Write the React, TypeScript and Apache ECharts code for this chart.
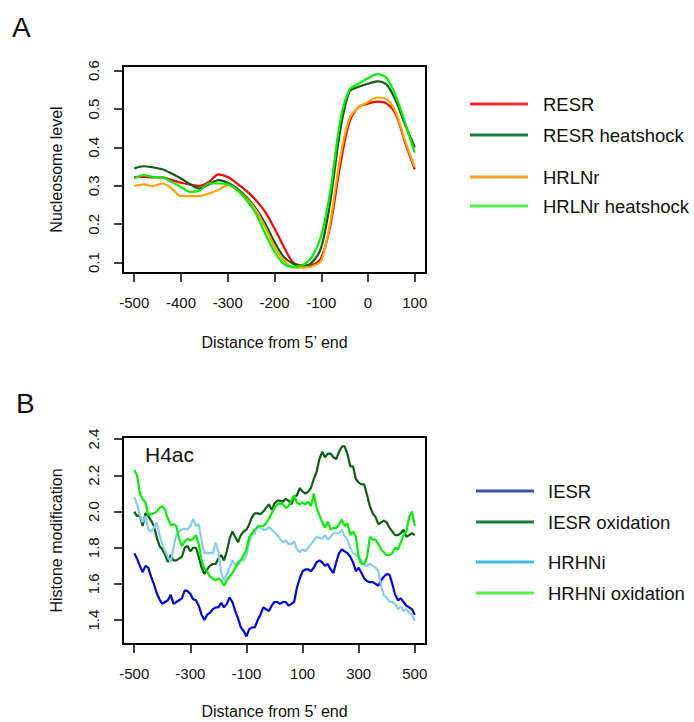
import React, { useEffect, useRef } from "react";
import * as echarts from "echarts";

// ---------- Panel A data ----------
const xsA = [-500, -480, -460, -440, -420, -400, -380, -360, -340, -320, -300, -280, -260, -240, -220, -200, -180, -160, -140, -120, -100, -80, -60, -40, -20, 0, 20, 40, 60, 80, 100];
const resr = [0.323, 0.323, 0.322, 0.322, 0.315, 0.308, 0.303, 0.300, 0.310, 0.330, 0.323, 0.306, 0.287, 0.263, 0.232, 0.189, 0.141, 0.100, 0.093, 0.094, 0.113, 0.200, 0.350, 0.465, 0.505, 0.514, 0.519, 0.514, 0.485, 0.410, 0.343];
const resrHeat = [0.345, 0.351, 0.348, 0.343, 0.332, 0.319, 0.304, 0.293, 0.304, 0.315, 0.308, 0.293, 0.271, 0.241, 0.202, 0.154, 0.115, 0.097, 0.090, 0.100, 0.140, 0.265, 0.440, 0.545, 0.558, 0.566, 0.572, 0.563, 0.520, 0.457, 0.400];
const hrlnr = [0.300, 0.304, 0.299, 0.306, 0.293, 0.273, 0.273, 0.273, 0.280, 0.289, 0.302, 0.289, 0.267, 0.237, 0.193, 0.141, 0.106, 0.087, 0.087, 0.090, 0.105, 0.210, 0.370, 0.475, 0.505, 0.518, 0.530, 0.526, 0.490, 0.415, 0.348];
const hrlnrHeat = [0.319, 0.328, 0.323, 0.322, 0.310, 0.297, 0.284, 0.288, 0.306, 0.306, 0.304, 0.289, 0.263, 0.228, 0.176, 0.128, 0.097, 0.089, 0.093, 0.115, 0.170, 0.290, 0.465, 0.550, 0.566, 0.580, 0.591, 0.580, 0.532, 0.462, 0.386];
const xTicksA = [-500, -400, -300, -200, -100, 0, 100];
const yTicksA = [0.1, 0.2, 0.3, 0.4, 0.5, 0.6];

// ---------- Panel B data ----------
const xsB = [-500, -490, -480, -470, -460, -450, -440, -430, -420, -410, -400, -390, -380, -370, -360, -350, -340, -330, -320, -310, -300, -290, -280, -270, -260, -250, -240, -230, -220, -210, -200, -190, -180, -170, -160, -150, -140, -130, -120, -110, -100, -90, -80, -70, -60, -50, -40, -30, -20, -10, 0, 10, 20, 30, 40, 50, 60, 70, 80, 90, 100, 110, 120, 130, 140, 150, 160, 170, 180, 190, 200, 210, 220, 230, 240, 250, 260, 270, 280, 290, 300, 310, 320, 330, 340, 350, 360, 370, 380, 390, 400, 410, 420, 430, 440, 450, 460, 470, 480, 490, 500];
const iesr = [1.77, 1.74, 1.70, 1.665, 1.70, 1.69, 1.64, 1.60, 1.55, 1.515, 1.49, 1.50, 1.51, 1.54, 1.49, 1.50, 1.51, 1.52, 1.565, 1.56, 1.545, 1.515, 1.51, 1.48, 1.43, 1.40, 1.43, 1.44, 1.46, 1.47, 1.47, 1.495, 1.47, 1.49, 1.525, 1.50, 1.45, 1.41, 1.36, 1.34, 1.31, 1.35, 1.36, 1.36, 1.40, 1.43, 1.47, 1.46, 1.45, 1.48, 1.50, 1.50, 1.49, 1.50, 1.50, 1.48, 1.49, 1.50, 1.58, 1.63, 1.67, 1.68, 1.68, 1.67, 1.69, 1.72, 1.73, 1.72, 1.70, 1.71, 1.68, 1.66, 1.72, 1.77, 1.79, 1.78, 1.77, 1.75, 1.72, 1.67, 1.69, 1.66, 1.63, 1.615, 1.61, 1.61, 1.60, 1.59, 1.62, 1.64, 1.655, 1.65, 1.60, 1.54, 1.51, 1.52, 1.50, 1.48, 1.47, 1.46, 1.43];
const iesrOx = [2.00, 1.975, 1.98, 1.92, 1.99, 1.975, 1.95, 1.92, 1.86, 1.81, 1.79, 1.76, 1.72, 1.76, 1.73, 1.73, 1.74, 1.75, 1.80, 1.81, 1.78, 1.80, 1.80, 1.75, 1.69, 1.655, 1.68, 1.70, 1.71, 1.71, 1.74, 1.76, 1.73, 1.78, 1.85, 1.89, 1.86, 1.83, 1.87, 1.89, 1.90, 1.93, 1.97, 1.99, 1.99, 1.985, 2.00, 2.02, 2.04, 2.01, 2.045, 2.06, 2.06, 2.055, 2.07, 2.06, 2.04, 2.08, 2.09, 2.13, 2.11, 2.10, 2.11, 2.13, 2.18, 2.22, 2.29, 2.33, 2.30, 2.32, 2.32, 2.30, 2.29, 2.33, 2.36, 2.36, 2.32, 2.25, 2.25, 2.18, 2.16, 2.15, 2.15, 2.09, 2.03, 1.99, 1.97, 1.93, 1.94, 1.95, 1.94, 1.91, 1.89, 1.87, 1.87, 1.88, 1.90, 1.86, 1.87, 1.88, 1.87];
const hrhni = [2.08, 2.04, 1.98, 1.94, 1.975, 1.90, 1.89, 1.91, 1.94, 1.87, 1.82, 1.78, 1.75, 1.72, 1.80, 1.87, 1.89, 1.90, 1.905, 1.90, 1.92, 1.96, 1.92, 1.93, 1.84, 1.77, 1.77, 1.77, 1.77, 1.83, 1.78, 1.66, 1.62, 1.655, 1.69, 1.73, 1.705, 1.725, 1.735, 1.73, 1.76, 1.83, 1.87, 1.88, 1.925, 1.91, 1.90, 1.90, 1.915, 1.90, 1.885, 1.87, 1.85, 1.83, 1.84, 1.82, 1.82, 1.835, 1.79, 1.775, 1.79, 1.78, 1.80, 1.82, 1.84, 1.86, 1.855, 1.85, 1.87, 1.845, 1.86, 1.88, 1.88, 1.88, 1.90, 1.865, 1.845, 1.80, 1.77, 1.76, 1.75, 1.73, 1.705, 1.70, 1.71, 1.70, 1.69, 1.67, 1.59, 1.535, 1.525, 1.50, 1.50, 1.49, 1.46, 1.475, 1.45, 1.46, 1.44, 1.43, 1.395];
const hrhniOx = [2.23, 2.20, 2.10, 2.07, 2.05, 1.98, 1.985, 1.99, 2.00, 2.02, 2.03, 2.01, 1.96, 1.925, 1.93, 1.92, 1.85, 1.81, 1.835, 1.85, 1.84, 1.85, 1.87, 1.82, 1.73, 1.685, 1.67, 1.64, 1.63, 1.62, 1.63, 1.62, 1.59, 1.62, 1.64, 1.66, 1.69, 1.71, 1.73, 1.76, 1.79, 1.86, 1.88, 1.90, 1.915, 1.92, 1.92, 1.935, 1.96, 1.99, 2.02, 2.04, 2.045, 2.04, 2.02, 2.03, 2.06, 2.09, 2.05, 2.04, 2.05, 2.04, 2.055, 2.03, 2.10, 2.02, 1.98, 1.94, 1.91, 1.945, 1.90, 1.91, 1.91, 1.93, 1.955, 1.92, 1.935, 1.87, 1.89, 1.86, 1.75, 1.71, 1.71, 1.75, 1.86, 1.845, 1.845, 1.82, 1.79, 1.775, 1.76, 1.76, 1.77, 1.80, 1.79, 1.83, 1.87, 1.89, 1.97, 2.00, 1.92];
const xTicksB = [-500, -300, -100, 100, 300, 500];
const yTicksB = [1.4, 1.6, 1.8, 2.0, 2.2, 2.4];

const legendA = ["RESR", "RESR heatshock", "HRLNr", "HRLNr heatshock"];
const legendB = ["IESR", "IESR oxidation", "HRHNi", "HRHNi oxidation"];

const FONT = '"Liberation Sans", Arial, sans-serif';
const colorsA = ["#ff0000", "#0b5e12", "#ffa500", "#00ee00"];
const legendColorsA = ["#f02a2a", "#1b7a3e", "#f5a02a", "#55f04a"];
const colorsB = ["#0000ee", "#0b5e12", "#87ceeb", "#00ee00"];
const legendColorsB = ["#3a55a8", "#1b7a3e", "#3bbde8", "#55f04a"];

function makeX(idx: number, min: number, max: number, ticks: number[]) {
  return {
    type: "value",
    gridIndex: idx,
    min,
    max,
    axisLine: { show: false, onZero: false },
    axisTick: { show: true, length: 9, customValues: ticks, lineStyle: { color: "#000", width: 1.5 } },
    axisLabel: { customValues: ticks, margin: 22, fontSize: 15, color: "#111", fontFamily: FONT, formatter: (v: number) => String(Math.round(v)) },
    splitLine: { show: false },
  };
}

function makeY(idx: number, min: number, max: number, ticks: number[]) {
  return {
    type: "value",
    gridIndex: idx,
    min,
    max,
    axisLine: { show: false, onZero: false },
    axisTick: { show: true, length: 9, customValues: ticks, lineStyle: { color: "#000", width: 1.5 } },
    axisLabel: { customValues: ticks, margin: 22, rotate: 90, fontSize: 15, color: "#111", fontFamily: FONT, formatter: (v: number) => v.toFixed(1) },
    splitLine: { show: false },
  };
}

function lineSeries(name: string, xs: number[], vals: number[], color: string, idx: number, smooth: number | boolean) {
  return {
    type: "line",
    name,
    xAxisIndex: idx,
    yAxisIndex: idx,
    data: xs.map((x, i) => [x, vals[i]]),
    showSymbol: false,
    symbol: "none",
    smooth,
    lineStyle: { color, width: 2.2 },
    itemStyle: { color },
  };
}

function txt(text: string, x: number, y: number, size: number, opts: any = {}) {
  return {
    type: "text",
    x,
    y,
    rotation: opts.rotation || 0,
    style: {
      text,
      fill: "#111",
      fontSize: size,
      fontFamily: FONT,
      align: opts.align || "left",
      verticalAlign: "middle",
    },
  };
}

function legendGraphics(names: string[], colors: string[], x1: number, x2: number, tx: number, ys: number[]) {
  const out: any[] = [];
  names.forEach((n, i) => {
    out.push({ type: "line", shape: { x1, y1: ys[i], x2, y2: ys[i] }, style: { stroke: colors[i], lineWidth: 3 } });
    out.push(txt(n, tx, ys[i], 18.5));
  });
  return out;
}

export default function App() {
  const ref = useRef<HTMLDivElement>(null);
  useEffect(() => {
    if (!ref.current) return;
    const chart = echarts.init(ref.current, undefined, { renderer: "svg" });
    const seriesA = [resr, resrHeat, hrlnr, hrlnrHeat];
    const seriesB = [iesr, iesrOx, hrhni, hrhniOx];
    chart.setOption({
      animation: false,
      backgroundColor: "#fff",
      grid: [
        { left: 123, top: 66, width: 303, height: 207, show: true, borderColor: "#000", borderWidth: 2, backgroundColor: "transparent" },
        { left: 123, top: 437, width: 303, height: 207, show: true, borderColor: "#000", borderWidth: 2, backgroundColor: "transparent" },
      ],
      xAxis: [makeX(0, -524, 124, xTicksA), makeX(1, -540, 540, xTicksB)],
      yAxis: [makeY(0, 0.073, 0.612, yTicksA), makeY(1, 1.268, 2.412, yTicksB)],
      series: [
        ...seriesA.map((v, i) => lineSeries(legendA[i], xsA, v, colorsA[i], 0, 0.3)),
        ...seriesB.map((v, i) => lineSeries(legendB[i], xsB, v, colorsB[i], 1, false)),
      ],
      graphic: [
        txt("A", 12, 27, 28),
        txt("B", 16, 403, 28),
        txt("Nucleosome level", 56, 169.5, 16, { rotation: Math.PI / 2, align: "center" }),
        txt("Distance from 5\u2019 end", 274.5, 342, 16, { align: "center" }),
        txt("Histone modification", 56, 540.5, 16, { rotation: Math.PI / 2, align: "center" }),
        txt("Distance from 5\u2019 end", 274.5, 711.5, 16, { align: "center" }),
        txt("H4ac", 145, 454, 21),
        ...legendGraphics(legendA, legendColorsA, 470, 528, 543, [104, 135, 177, 206]),
        ...legendGraphics(legendB, legendColorsB, 476, 534, 548, [491, 522, 562, 593]),
      ],
    });
    return () => chart.dispose();
  }, []);
  return <div ref={ref} style={{ position: "absolute", left: 0, top: 0, width: 694, height: 722 }} />;
}
